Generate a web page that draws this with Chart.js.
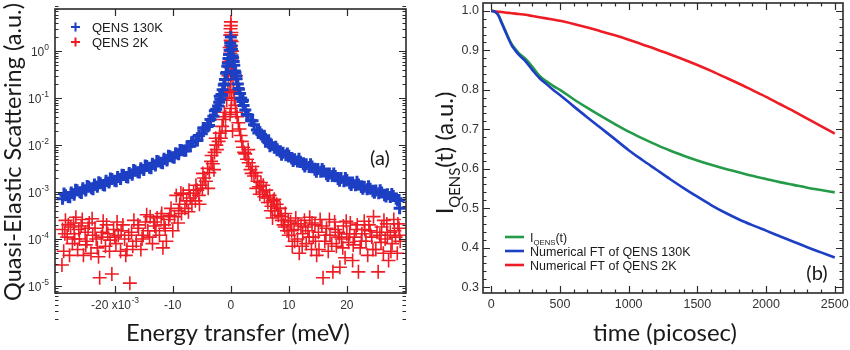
<!DOCTYPE html>
<html>
<head>
<meta charset="utf-8">
<script src="https://cdn.jsdelivr.net/npm/chart.js@4.4.0/dist/chart.umd.min.js"></script>
<style>
  html, body { margin: 0; padding: 0; background: #fff; }
  #wrap { position: relative; width: 850px; height: 350px; overflow: hidden; }
  .panel { position: absolute; top: 0; height: 350px; }
  #pa { left: 0; width: 420px; }
  #pb { left: 420px; width: 430px; }
</style>
</head>
<body>
<div id="wrap">
  <div class="panel" id="pa"><canvas id="chartA" width="420" height="350"></canvas></div>
  <div class="panel" id="pb"><canvas id="chartB" width="430" height="350"></canvas></div>
</div>
<script>
// ---- panel (a): QENS spectra, [energy (x10^-3 meV), intensity] ----
const qens130K = [
  [-29,7.2e-4],[-28.5,8.6e-4],[-28,7.9e-4],[-27.5,9.8e-4],[-27,8.8e-4],[-26.5,1.1e-3],[-26,9.9e-4],
  [-25.5,1.2e-3],[-25,1.08e-3],[-24.5,1.3e-3],[-24,1.2e-3],[-23.5,1.45e-3],[-23,1.3e-3],[-22.5,1.55e-3],
  [-22,1.42e-3],[-21.5,1.75e-3],[-21,1.6e-3],[-20.5,1.9e-3],[-20,1.75e-3],[-19.5,2.1e-3],[-19,1.9e-3],
  [-18.5,2.3e-3],[-18,2.1e-3],[-17.5,2.55e-3],[-17,2.35e-3],[-16.5,2.85e-3],[-16,2.65e-3],[-15.5,3.2e-3],
  [-15,2.95e-3],[-14.5,3.6e-3],[-14,3.3e-3],[-13.5,4.0e-3],[-13,3.7e-3],[-12.5,4.5e-3],[-12,4.2e-3],
  [-11.5,5.1e-3],[-11,4.7e-3],[-10.5,5.8e-3],[-10,5.5e-3],[-9.5,6.7e-3],[-9,6.4e-3],[-8.5,7.8e-3],
  [-8,7.6e-3],[-7.5,9.4e-3],[-7,9.5e-3],[-6.5,1.2e-2],[-6,1.25e-2],[-5.5,1.6e-2],[-5,1.75e-2],
  [-4.5,2.3e-2],[-4,2.5e-2],[-3.5,3.5e-2],[-3,4.1e-2],[-2.5,5.8e-2],
  [-28.75,9.3e-4],[-27.75,7.8e-4],[-26.75,1.12e-3],[-25.75,9.6e-4],[-24.75,1.35e-3],[-23.75,1.15e-3],
  [-22.75,1.62e-3],[-21.75,1.38e-3],[-20.75,1.95e-3],[-19.75,1.7e-3],[-18.75,2.35e-3],[-17.75,2.05e-3],
  [-16.75,2.95e-3],[-15.75,2.6e-3],[-14.75,3.7e-3],[-13.75,3.2e-3],[-12.75,4.6e-3],[-11.75,4.1e-3],
  [-10.75,5.9e-3],[-9.75,5.4e-3],[-8.75,7.9e-3],[-7.75,7.6e-3],[-6.75,1.15e-2],[-5.75,1.25e-2],
  [-4.75,2.3e-2],[-3.75,2.6e-2],[-2.75,5.4e-2],
  [-2.2,0.068],[-2.0,0.082],[-1.8,0.095],[-1.6,0.12],[-1.4,0.15],[-1.2,0.19],[-1.0,0.25],[-0.8,0.34],
  [-0.6,0.48],[-0.4,0.7],[-0.2,1.05],[0,2.0],[0.2,1.1],[0.4,0.72],[0.6,0.5],[0.8,0.35],[1.0,0.26],
  [1.2,0.2],[1.4,0.155],[1.6,0.125],[1.8,0.1],[2.0,0.085],[2.2,0.07],
  [-1.9,0.11],[-1.5,0.115],[-1.1,0.2],[-0.7,0.35],[-0.5,0.55],[-0.3,0.85],[-0.1,1.5],[0.1,1.3],
  [0.3,0.8],[0.5,0.6],[0.7,0.38],[0.9,0.3],[1.3,0.16],[1.7,0.1],[2.1,0.09],
  [2.5,0.056],[3,0.043],[3.5,0.033],[4,0.027],[4.5,0.021],[5,0.019],[5.5,0.015],[6,0.0135],[6.5,0.0112],
  [7,0.0102],[7.5,0.0088],[8,0.0082],[8.5,0.0072],[9,0.0069],[9.5,0.0061],[10,0.0059],[10.5,0.0052],
  [11,0.0050],[11.5,0.0045],[12,0.0044],[12.5,0.0039],[13,0.0039],[13.5,0.0034],[14,0.0035],[14.5,0.0030],
  [15,0.0031],[15.5,0.0027],[16,0.0028],[16.5,0.0024],[17,0.0025],[17.5,0.0022],[18,0.0022],[18.5,0.0019],
  [19,0.0020],[19.5,0.0017],[20,0.0018],[20.5,0.00155],[21,0.0016],[21.5,0.0014],[22,0.00145],[22.5,0.00128],
  [23,0.0013],[23.5,0.00115],[24,0.00118],[24.5,0.00104],[25,0.00108],[25.5,0.00094],[26,0.00098],
  [26.5,0.00086],[27,0.0009],[27.5,0.00079],[28,0.00082],[28.5,0.00072],[29,0.00068],[29.1,4.5e-4],
  [2.75,0.045],[3.75,0.033],[4.75,0.018],[5.75,0.0158],[6.75,0.0095],[7.75,0.0092],[8.75,0.0062],
  [9.75,0.0066],[10.75,0.0046],[11.75,0.0051],[12.75,0.0035],[13.75,0.0039],[14.75,0.0027],[15.75,0.0031],
  [16.75,0.0022],[17.75,0.0025],[18.75,0.00175],[19.75,0.0020],[20.75,0.00142],[21.75,0.00165],
  [22.75,0.00118],[23.75,0.00133],[24.75,0.00097],[25.75,0.0011],[26.75,0.0008],[27.75,0.00091],
  [28.75,0.00066]
];

const qens2K = [
  [-29.0,1.6e-4],[-28.8,5.5e-5],[-28.5,2.5e-4],[-28.2,1.1e-4],[-29.1,2.8e-5],[-27.6,1.8e-4],[-27.3,8e-5],
  [-27.0,1.3e-4],[-26.7,2.9e-4],[-26.4,6e-5],[-26.1,1.0e-4],[-25.8,1.9e-4],[-25.4,4.5e-5],[-25.1,1.4e-4],
  [-24.8,9e-5],[-24.4,2.2e-4],[-24.1,5e-5],[-23.8,1.2e-4],[-23.4,1.7e-4],[-23.0,6.5e-5],[-22.6,1.5e-5],
  [-22.3,1.1e-4],[-22.0,2.4e-4],[-21.6,7e-5],[-21.2,1.3e-4],[-20.8,9.5e-5],[-20.5,1.8e-5],[-20.2,1.6e-4],
  [-19.8,8e-5],[-19.4,1.2e-4],[-19.0,5.5e-5],[-18.6,2.0e-4],[-18.3,1.0e-4],[-17.9,6e-5],[-17.4,1.15e-5],
  [-17.1,1.4e-4],[-16.7,2.5e-4],[-16.3,9e-5],[-15.9,1.7e-4],[-15.5,6e-5],[-15.1,1.2e-4],[-14.7,2.3e-4],
  [-14.3,1.5e-4],[-13.9,3.0e-4],[-13.5,8e-5],[-13.1,1.9e-4],[-12.7,2.8e-4],[-12.3,1.2e-4],[-11.9,3.5e-4],
  [-11.5,2.0e-4],[-11.1,9e-5],[-10.7,2.6e-4],[-10.3,4.5e-4],[-10.0,1.5e-4],
  [-28.6,1.3e-4],[-28.0,2.0e-4],[-27.8,4.5e-5],[-27.1,2.2e-4],[-26.9,1.0e-4],[-26.2,1.6e-4],[-25.6,2.6e-4],
  [-25.0,7.5e-5],[-24.6,1.7e-4],[-23.9,2.7e-4],[-23.2,1.0e-4],[-22.8,4.2e-5],[-22.1,1.4e-4],[-21.4,2.0e-4],
  [-20.9,5.5e-5],[-20.0,1.1e-4],[-19.6,2.3e-4],[-18.9,1.5e-4],[-18.1,4.5e-5],[-17.6,1.2e-4],[-16.9,7e-5],
  [-16.0,2.0e-4],[-15.3,1.0e-4],[-14.5,3.3e-4],[-14.0,1.1e-4],[-13.3,2.3e-4],[-12.9,1.5e-4],[-12.0,3.0e-4],
  [-11.3,1.7e-4],[-10.5,3.2e-4],[-11.7,6.5e-5],
  [-9.7,3.0e-4],[-9.4,8.5e-4],[-9.1,2.2e-4],[-8.8,5.5e-4],[-8.5,3.5e-4],[-8.2,9.0e-4],[-7.9,4.5e-4],
  [-7.6,6.5e-4],[-7.3,3.8e-4],[-7.0,7.5e-4],[-6.7,5.5e-4],[-6.4,9.5e-4],[-6.1,6.5e-4],[-5.8,1.1e-3],
  [-5.5,8.5e-4],[-5.2,1.4e-3],[-4.9,1.2e-3],[-4.6,2.0e-3],[-4.3,1.7e-3],[-4.0,3.2e-3],[-3.7,2.6e-3],
  [-3.4,4.5e-3],[-3.1,4.0e-3],[-2.8,7e-3],[-2.5,1.0e-2],
  [-8.6,9.5e-4],[-7.2,1.1e-3],[-9.0,4.0e-4],[-6.0,1.4e-3],[-5.4,5.5e-4],[-4.8,2.5e-3],[-3.9,1.2e-3],
  [-3.3,6e-3],[-2.9,3.0e-3],[-2.6,1.4e-2],
  [-2.4,0.008],[-2.1,0.012],[-1.9,0.018],
  [-1.7,0.014],[-1.5,0.025],[-1.3,0.035],[-1.1,0.05],[-0.9,0.04],[-0.7,0.09],[-0.5,0.13],[-0.4,0.3],
  [-0.3,0.6],[-0.2,1.2],[-0.1,2.2],[0,3.5],[0.1,2.5],[0.15,1.6],[0.2,1.0],[0.3,0.5],[0.4,0.25],
  [0.5,0.15],[0.6,0.1],[0.8,0.07],[0.9,0.05],[1.1,0.04],[1.3,0.03],[1.5,0.022],[1.7,0.016],[1.9,0.012],
  [2.1,0.009],[2.3,0.007],
  [0.02,4.2],[-0.05,3.0],[0.08,2.2],[-0.02,1.7],[0.05,1.3],[-0.08,0.9],[0.1,0.65],[-0.1,0.45],[0.12,0.32],
  [0.0,0.2],[-0.15,0.14],[0.15,0.1],[0.05,0.06],[-0.12,0.045],[0.9,0.3],[1.0,0.2],[-0.9,0.02],[0.3,0.02],
  [2.5,0.0065],[2.8,0.005],[3.1,0.0042],[3.4,0.003],[3.7,0.0035],[4.0,0.0022],[4.3,0.0026],[4.6,0.0017],
  [4.9,0.0013],[5.2,0.0016],[5.5,0.001],[5.8,0.0008],[6.1,0.0011],[6.4,0.0006],[6.7,0.00085],[7.0,0.0005],
  [7.3,0.00065],[7.6,0.0004],[7.9,0.00055],[8.2,0.00032],[8.5,0.00045],[8.8,0.00025],[9.1,0.0002],
  [9.4,0.00035],[9.7,0.00015],
  [3.0,0.008],[3.6,0.0025],[4.4,0.0012],[5.0,0.0009],[5.6,0.0014],[6.3,0.00075],[6.9,0.0004],
  [7.5,0.0007],[8.1,0.00045],[8.7,0.0003],[9.3,0.00018],[9.9,0.00025],[7.2,0.00028],
  [10.0,1.2e-4],[10.3,2.3e-4],[10.6,7e-5],[10.9,1.6e-4],[11.2,2.8e-4],[11.5,1.0e-4],[11.8,5e-5],
  [12.1,1.9e-4],[12.4,1.3e-4],[12.7,2.5e-4],[13.0,8e-5],[13.3,1.5e-4],[13.6,2.9e-4],[13.9,6e-5],
  [14.2,1.1e-4],[14.5,2.0e-4],[14.8,4.5e-5],[15.1,1.4e-4],[15.4,2.6e-4],[15.9,1.5e-5],[16.2,9e-5],
  [16.5,1.7e-4],[16.8,5.5e-5],[17.1,1.2e-4],[17.6,2.0e-5],[17.9,2.3e-4],[18.2,7e-5],[18.5,1.4e-4],
  [18.8,2.5e-5],[19.1,1.0e-4],[19.4,1.9e-4],[19.7,4e-5],[20.0,1.3e-4],[20.3,8.5e-5],[20.6,2.2e-4],
  [21.0,3.5e-5],[21.3,1.1e-4],[21.6,1.6e-4],[22.0,2.0e-5],[22.3,6.5e-5],[22.6,1.3e-4],[23.0,2.4e-4],
  [23.3,9e-5],[23.6,4.5e-5],[24.0,1.5e-4],[24.3,1.1e-4],[24.6,3.0e-4],[25.0,6e-5],[25.4,2.0e-5],
  [25.7,1.2e-4],[26.0,1.8e-4],[26.3,5e-5],[26.6,1.0e-4],[26.9,2.1e-4],[27.2,3.5e-5],[27.5,1.4e-4],
  [27.8,8e-5],[28.1,2.6e-4],[28.4,1.1e-4],[28.7,5e-5],[29.0,1.7e-4],[29.2,9e-5],
  [10.5,1.5e-4],[11.0,9e-5],[11.6,2.1e-4],[12.3,7e-5],[12.9,1.8e-4],[13.5,1.1e-4],[14.0,2.2e-4],
  [14.6,9e-5],[15.2,6e-5],[15.7,1.9e-4],[16.4,1.2e-4],[17.0,2.6e-4],[17.4,8e-5],[18.0,1.6e-4],
  [18.7,1.1e-4],[19.3,6.5e-5],[19.9,2.4e-4],[20.5,1.3e-4],[21.1,7.5e-5],[21.8,2.0e-4],[22.5,9e-5],
  [23.1,1.6e-4],[23.8,2.0e-4],[24.5,6e-5],[25.2,1.4e-4],[25.9,8.5e-5],[26.4,2.5e-4],[27.0,1.2e-4],
  [27.6,5.5e-5],[28.2,1.5e-4],[28.8,2.1e-4],[29.1,1.2e-4]
];

const aXTicks = [-20, -10, 0, 10, 20];
const aYTicks = [1e-5, 1e-4, 1e-3, 1e-2, 1e-1, 1];

// ---- panel (b): time domain ----
const timePs = [0,25,50,75,100,125,150,175,200,250,300,350,400,450,500,600,700,800,900,1000,
  1100,1200,1300,1400,1500,1600,1700,1800,1900,2000,2100,2200,2300,2400,2500];
const iQens = [1.0,0.998,0.99,0.972,0.952,0.932,0.915,0.903,0.893,0.878,0.858,0.836,0.822,0.81,0.80,
  0.776,0.754,0.733,0.713,0.694,0.677,0.661,0.646,0.633,0.621,0.61,0.6,0.591,0.582,0.574,
  0.566,0.559,0.552,0.546,0.54];
const ft130K = [1.0,0.998,0.99,0.97,0.95,0.93,0.912,0.9,0.889,0.872,0.85,0.83,0.815,0.8,0.787,
  0.758,0.73,0.7025,0.675,0.647,0.622,0.598,0.574,0.551,0.529,0.508,0.489,0.472,0.457,0.443,
  0.429,0.415,0.401,0.388,0.375];
const ft2K = [1.0,0.999,0.998,0.997,0.996,0.995,0.994,0.993,0.992,0.99,0.987,0.984,0.981,0.978,0.975,
  0.967,0.958,0.948,0.938,0.927,0.915,0.903,0.89,0.877,0.863,0.848,0.832,0.816,0.799,0.782,
  0.764,0.746,0.727,0.708,0.689];

const bXTicks = [0, 500, 1000, 1500, 2000, 2500];
const bYTicks = [0.3, 0.4, 0.5, 0.6, 0.7, 0.8, 0.9, 1.0];

const COL = { blue: '#1d3fc4', red: '#ee1c24', green: '#239b48', axis: '#2a2a2a', text: '#1a1a1a' };
const TICK_FONT = '"Liberation Sans", Arial, sans-serif';
const TITLE_FONT = 'Lato, "Open Sans", sans-serif';

// fit a font size so the text spans roughly the wanted width
function fitFont(ctx, text, width, family) {
  ctx.font = '20px ' + family;
  const w = ctx.measureText(text).width;
  return 20 * width / w;
}

function drawBox(chart, cfg) {
  const { ctx, chartArea: a } = chart;
  const sx = chart.scales.x, sy = chart.scales.y;
  ctx.save();
  ctx.strokeStyle = COL.axis;
  ctx.lineWidth = 1.2;
  ctx.beginPath();
  const xt = (v, len) => {
    const p = Math.round(sx.getPixelForValue(v)) + 0.5;
    ctx.moveTo(p, a.bottom); ctx.lineTo(p, a.bottom - len);
    ctx.moveTo(p, a.top); ctx.lineTo(p, a.top + len);
  };
  const yt = (v, len) => {
    const p = Math.round(sy.getPixelForValue(v)) + 0.5;
    ctx.moveTo(a.left, p); ctx.lineTo(a.left + len, p);
    ctx.moveTo(a.right, p); ctx.lineTo(a.right - len, p);
  };
  cfg.xMajor.forEach(v => xt(v, 7));
  cfg.xMinor.forEach(v => xt(v, 3.5));
  cfg.yMajor.forEach(v => yt(v, 7));
  cfg.yMinor.forEach(v => yt(v, 3.5));
  ctx.stroke();
  ctx.lineWidth = 1.6;
  ctx.strokeRect(a.left, a.top, a.right - a.left, a.bottom - a.top);
  ctx.restore();
}

// ---- panel (a) ----
const aYMinor = [];
[1e-6, 1e-5, 1e-4, 1e-3, 1e-2, 1e-1, 1].forEach(d => {
  for (let k = 2; k <= 9; k++) aYMinor.push(d * k);
});

const panelA = {
  id: 'panelA',
  afterDatasetsDraw(chart) {
    drawBox(chart, { xMajor: aXTicks, xMinor: [], yMajor: aYTicks, yMinor: aYMinor });
    const { ctx } = chart;
    const sx = chart.scales.x, sy = chart.scales.y;
    ctx.save();
    ctx.fillStyle = '#333';
    ctx.textBaseline = 'alphabetic';
    // y tick labels 10^n
    aYTicks.forEach(v => {
      const p = sy.getPixelForValue(v);
      const e = String(Math.round(Math.log10(v)));
      ctx.font = '8.5px ' + TICK_FONT;
      const we = ctx.measureText(e).width;
      ctx.textAlign = 'right';
      ctx.fillText(e, 49, p - 1);
      ctx.font = '12px ' + TICK_FONT;
      ctx.fillText('10', 49 - we, p + 5);
    });
    // x tick labels
    aXTicks.forEach(v => {
      const p = sx.getPixelForValue(v);
      ctx.font = '12px ' + TICK_FONT;
      if (v === -20) {
        const t1 = '-20 x10';
        const w1 = ctx.measureText(t1).width;
        ctx.font = '8.5px ' + TICK_FONT;
        const w2 = ctx.measureText('-3').width;
        const x0 = p - (w1 + w2) / 2;
        ctx.textAlign = 'left';
        ctx.fillText('-3', x0 + w1 + 0.5, 303);
        ctx.font = '12px ' + TICK_FONT;
        ctx.fillText(t1, x0, 309);
      } else {
        ctx.textAlign = 'center';
        ctx.fillText(String(v), p, 309);
      }
    });
    // legend
    const leg = [['QENS 130K', COL.blue, 27], ['QENS 2K', COL.red, 42]];
    leg.forEach(([t, c, y]) => {
      ctx.strokeStyle = c; ctx.lineWidth = 2;
      ctx.beginPath();
      ctx.moveTo(71, y); ctx.lineTo(80, y);
      ctx.moveTo(75.5, y - 4.5); ctx.lineTo(75.5, y + 4.5);
      ctx.stroke();
      ctx.fillStyle = COL.text;
      ctx.font = '13px ' + TICK_FONT;
      ctx.textAlign = 'left';
      ctx.fillText(t, 92, y + 4.5);
    });
    // panel tag
    ctx.font = '20px ' + TITLE_FONT;
    ctx.fillStyle = COL.text;
    ctx.textAlign = 'center';
    ctx.fillText('(a)', 380, 165);
    // axis titles
    const yt = 'Quasi-Elastic Scattering (a.u.)';
    const fy = fitFont(ctx, yt, 298, TITLE_FONT);
    ctx.save();
    ctx.translate(21, 152);
    ctx.rotate(-Math.PI / 2);
    ctx.font = fy + 'px ' + TITLE_FONT;
    ctx.textAlign = 'center';
    ctx.fillText(yt, 0, 0);
    ctx.restore();
    const xtl = 'Energy transfer (meV)';
    const fx = fitFont(ctx, xtl, 224, TITLE_FONT);
    ctx.font = fx + 'px ' + TITLE_FONT;
    ctx.textAlign = 'center';
    ctx.fillText(xtl, 238, 341);
    ctx.restore();
  }
};

new Chart(document.getElementById('chartA'), {
  type: 'scatter',
  data: {
    datasets: [
      {
        label: 'QENS 130K',
        data: qens130K.map(([x, y]) => ({ x, y })),
        pointStyle: 'cross', radius: 6, borderWidth: 3,
        borderColor: COL.blue, backgroundColor: COL.blue
      },
      {
        label: 'QENS 2K',
        data: qens2K.map(([x, y]) => ({ x, y })),
        pointStyle: 'cross', radius: 7, borderWidth: 1.6,
        borderColor: COL.red, backgroundColor: COL.red
      }
    ]
  },
  options: {
    responsive: false,
    animation: false,
    layout: { padding: { left: 0, top: 3, right: 14, bottom: 0 } },
    plugins: { legend: { display: false }, tooltip: { enabled: false } },
    scales: {
      x: {
        type: 'linear', min: -30.3, max: 30.2,
        grid: { display: false }, border: { display: false }, ticks: { display: false },
        afterFit: s => { s.height = 57; }
      },
      y: {
        type: 'logarithmic', min: 7.1e-6, max: 7.9,
        grid: { display: false }, border: { display: false }, ticks: { display: false },
        afterFit: s => { s.width = 55; }
      }
    }
  },
  plugins: [panelA]
});

// ---- panel (b) ----
const bXMinor = [];
for (let t = 0; t <= 2500; t += 100) bXMinor.push(t);
const bYMinor = [];
for (let v = 30; v <= 100; v += 2) bYMinor.push(v / 100);

function drawSubText(ctx, parts, x, y, size, family) {
  // parts: [text, isSub]
  let cx = x;
  parts.forEach(([t, sub]) => {
    ctx.font = (sub ? size * 0.62 : size) + 'px ' + family;
    ctx.fillText(t, cx, y + (sub ? size * 0.28 : 0));
    cx += ctx.measureText(t).width;
  });
  return cx - x;
}
function subWidth(ctx, parts, size, family) {
  let w = 0;
  parts.forEach(([t, sub]) => {
    ctx.font = (sub ? size * 0.62 : size) + 'px ' + family;
    w += ctx.measureText(t).width;
  });
  return w;
}

const panelB = {
  id: 'panelB',
  afterDatasetsDraw(chart) {
    drawBox(chart, { xMajor: bXTicks, xMinor: bXMinor, yMajor: bYTicks, yMinor: bYMinor });
    const { ctx } = chart;
    const sx = chart.scales.x, sy = chart.scales.y;
    ctx.save();
    ctx.fillStyle = '#333';
    ctx.font = '12.5px ' + TICK_FONT;
    ctx.textAlign = 'right';
    ctx.textBaseline = 'middle';
    bYTicks.forEach(v => ctx.fillText(v.toFixed(1), 59, sy.getPixelForValue(v)));
    ctx.textAlign = 'center';
    bXTicks.forEach(v => ctx.fillText(String(v), sx.getPixelForValue(v), 305));
    ctx.textBaseline = 'alphabetic';
    // legend
    const leg = [
      [[['I', false], ['QENS', true], ['(t)', false]], COL.green, 237],
      [[['Numerical FT of QENS 130K', false]], COL.blue, 251],
      [[['Numerical FT of QENS 2K', false]], COL.red, 265]
    ];
    ctx.textAlign = 'left';
    leg.forEach(([parts, c, y]) => {
      ctx.strokeStyle = c; ctx.lineWidth = 2.6;
      ctx.beginPath(); ctx.moveTo(85, y); ctx.lineTo(104, y); ctx.stroke();
      ctx.fillStyle = COL.text;
      drawSubText(ctx, parts, 110, y + 4.5, 12.5, TICK_FONT);
    });
    // panel tag
    ctx.font = '20px ' + TITLE_FONT;
    ctx.textAlign = 'center';
    ctx.fillText('(b)', 397, 280);
    // axis titles
    const xt = 'time (picosec)';
    ctx.font = fitFont(ctx, xt, 144, TITLE_FONT) + 'px ' + TITLE_FONT;
    ctx.fillText(xt, 245, 341);
    const yParts = [['I', false], ['QENS', true], ['(t) (a.u.)', false]];
    const size = 24;
    const w = subWidth(ctx, yParts, size, TITLE_FONT);
    ctx.save();
    ctx.translate(33, 153);
    ctx.rotate(-Math.PI / 2);
    ctx.textAlign = 'left';
    drawSubText(ctx, yParts, -w / 2, 0, size, TITLE_FONT);
    ctx.restore();
    ctx.restore();
  }
};

const lineDs = (label, vals, color) => ({
  label, type: 'line',
  data: timePs.map((t, i) => ({ x: t, y: vals[i] })),
  borderColor: color, backgroundColor: color,
  borderWidth: 2.6, pointRadius: 0, cubicInterpolationMode: 'monotone', fill: false
});

new Chart(document.getElementById('chartB'), {
  type: 'scatter',
  data: {
    datasets: [
      lineDs('Numerical FT of QENS 130K', ft130K, COL.blue),
      lineDs('Numerical FT of QENS 2K', ft2K, COL.red),
      lineDs('I_QENS(t)', iQens, COL.green)
    ]
  },
  options: {
    responsive: false,
    animation: false,
    layout: { padding: { left: 0, top: 3, right: 7, bottom: 0 } },
    plugins: { legend: { display: false }, tooltip: { enabled: false } },
    scales: {
      x: {
        type: 'linear', min: -60, max: 2560,
        grid: { display: false }, border: { display: false }, ticks: { display: false },
        afterFit: s => { s.height = 57; }
      },
      y: {
        type: 'linear', min: 0.285, max: 1.02,
        grid: { display: false }, border: { display: false }, ticks: { display: false },
        afterFit: s => { s.width = 63; }
      }
    }
  },
  plugins: [panelB]
});
</script>
</body>
</html>
